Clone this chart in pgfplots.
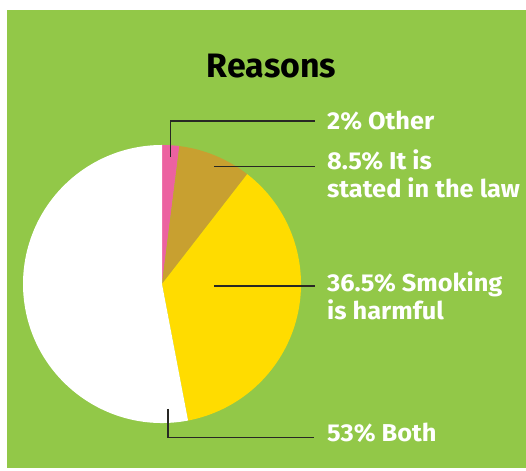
\documentclass[border=0pt]{standalone}
\usepackage{pgfplots}
\pgfplotsset{compat=1.18}
\usepackage{fontspec}
\setmainfont{Fira Sans}
\newfontfamily\labelfont{Fira Sans}[FakeStretch=1.04]
\definecolor{bg}{RGB}{146,200,72}
\definecolor{cpink}{RGB}{236,98,160}
\definecolor{cgold}{RGB}{200,160,48}
\definecolor{cyellow}{RGB}{255,220,0}
\definecolor{cline}{RGB}{40,40,36}
\begin{document}
\begin{tikzpicture}[x=1bp,y=1bp]
\useasboundingbox (0,0) rectangle (526,471);
\fill[white] (0,0) rectangle (526,471);
\fill[bg] (7,3) rectangle (526,461);
\begin{axis}[
  at={(23bp,48bp)}, anchor=south west,
  scale only axis, width=278bp, height=278bp,
  xmin=-1, xmax=1, ymin=-1, ymax=1,
  hide axis, clip=false]
% values: Other 2, Law 8.5, Harmful 36.5, Both 53 (percent), clockwise from top
\fill[cpink]   (axis cs:0,0) -- (axis cs:{cos(90)},{sin(90)}) arc[start angle=90, end angle={90-3.6*2}, radius=139bp] -- cycle;
\fill[cgold]   (axis cs:0,0) -- (axis cs:{cos(90-3.6*2)},{sin(90-3.6*2)}) arc[start angle={90-3.6*2}, end angle={90-3.6*(2+8.5)}, radius=139bp] -- cycle;
\fill[cyellow] (axis cs:0,0) -- (axis cs:{cos(90-3.6*10.5)},{sin(90-3.6*10.5)}) arc[start angle={90-3.6*10.5}, end angle={90-3.6*(10.5+36.5)}, radius=139bp] -- cycle;
\fill[white]   (axis cs:0,0) -- (axis cs:{cos(90-3.6*47)},{sin(90-3.6*47)}) arc[start angle={90-3.6*47}, end angle={90-3.6*(47+53)}, radius=139bp] -- cycle;
\end{axis}
% title
\node[anchor=base, font=\fontsize{34}{40}\selectfont\bfseries, text=black, inner sep=0] at (271.5,393.7) {Reasons};
% leader lines
\draw[cline, line width=1.5bp] (170.5,314) -- (170.5,350) -- (315,350);
\draw[cline, line width=1.5bp] (214,304.3) -- (315,304.3);
\draw[cline, line width=1.5bp] (214,185) -- (315,185);
\draw[cline, line width=1.5bp] (168,62) -- (168,33.3) -- (314,33.3);
% labels
\begin{scope}[every node/.style={anchor=base west, inner sep=0, text=white, font=\labelfont\bfseries\fontsize{24.5}{28}\selectfont, align=left}]
\node at (327,341) {2\% Other};
\node at (327,301) {8.5\% It is};
\node at (327,273) {stated in the law};
\node at (327,179.5) {36.5\% Smoking};
\node at (327,151.5) {is harmful};
\node at (327,29) {53\% Both};
\end{scope}
\end{tikzpicture}
\end{document}
